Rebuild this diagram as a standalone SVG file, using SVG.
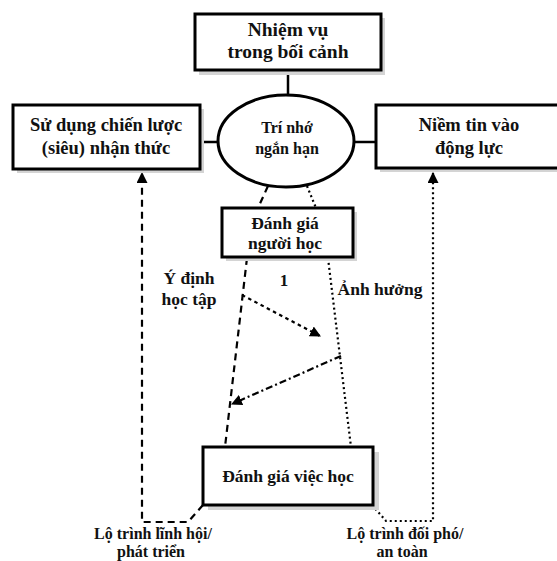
<svg xmlns="http://www.w3.org/2000/svg" width="557" height="561" viewBox="0 0 557 561">
<style>
.box{fill:#fff;stroke:#000;stroke-width:3}
.sh{fill:#d4d4d4}
.t{font-family:"Liberation Serif","Times New Roman",serif;font-weight:bold;fill:#111;text-anchor:middle}
.solid{stroke:#000;stroke-width:2.5;fill:none}
.dash{stroke:#000;stroke-width:2.2;fill:none;stroke-dasharray:7 5}
.dot{stroke:#000;stroke-width:2.2;fill:none;stroke-dasharray:2 3}
.sdot{stroke:#000;stroke-width:2.2;fill:none;stroke-dasharray:3.5 3.5}
.dashdot{stroke:#000;stroke-width:2.2;fill:none;stroke-dasharray:7 3 2 3}
</style>
<defs>
<marker id="ah" viewBox="0 0 10 10" refX="9" refY="5" markerWidth="5" markerHeight="5" orient="auto" markerUnits="strokeWidth">
<path d="M0,0 L10,5 L0,10 z" fill="#000"/>
</marker>
</defs>
<rect width="557" height="561" fill="#fff"/>
<g id="connectors">
<line class="solid" x1="288" y1="70" x2="288" y2="96"/>
<line class="solid" x1="200" y1="142" x2="218" y2="142"/>
<line class="solid" x1="354" y1="142" x2="376" y2="142"/>
<line class="dash" x1="268" y1="186" x2="258" y2="208"/>
<line class="dot" x1="307" y1="186" x2="316" y2="208"/>
<line class="dash" x1="247" y1="258" x2="225" y2="447"/>
<line class="dot" x1="328" y1="258" x2="351" y2="447"/>
<line class="sdot" x1="242" y1="295" x2="320" y2="336" marker-end="url(#ah)"/>
<line class="dashdot" x1="341" y1="356" x2="232" y2="404" marker-end="url(#ah)"/>
<polyline class="dash" points="203,505 188,522 142,522 142,173" marker-end="url(#ah)"/>
<polyline class="dot" points="372,505 386,521 433,521 433,173" marker-end="url(#ah)"/>
</g>
<g id="n-nhiemvu">
<rect class="sh" x="199" y="18" width="186" height="57"/>
<rect class="box" x="195" y="14" width="186" height="56"/>
<text class="t" x="288" y="36" font-size="19.5">Nhiệm vụ</text>
<text class="t" x="288" y="58" font-size="19.5">trong bối cảnh</text>
</g>
<g id="n-left">
<rect class="sh" x="17" y="109" width="187" height="64"/>
<rect class="box" x="13" y="105" width="187" height="64"/>
<text class="t" x="106" y="131" font-size="18.5">Sử dụng chiến lược</text>
<text class="t" x="106" y="154" font-size="18.5">(siêu) nhận thức</text>
</g>
<g id="n-right">
<rect class="sh" x="380" y="109" width="190" height="63"/>
<rect class="box" x="376" y="105" width="190" height="63"/>
<text class="t" x="469" y="131" font-size="18.5">Niềm tin vào</text>
<text class="t" x="469" y="154" font-size="18.5">động lực</text>
</g>
<g id="n-trinho">
<ellipse cx="286" cy="141" rx="68" ry="46" fill="#fff" stroke="#000" stroke-width="3"/>
<text class="t" x="287" y="133" font-size="16">Trí nhớ</text>
<text class="t" x="287" y="154" font-size="16">ngắn hạn</text>
</g>
<g id="n-nguoihoc">
<rect class="sh" x="226" y="212" width="131" height="49"/>
<rect class="box" x="222" y="208" width="131" height="49"/>
<text class="t" x="285" y="229" font-size="17.5">Đánh giá</text>
<text class="t" x="285" y="249" font-size="17.5">người học</text>
</g>
<g id="n-viechoc">
<rect class="sh" x="208" y="452" width="171" height="58"/>
<rect class="box" x="203" y="447" width="170" height="58"/>
<text class="t" x="288" y="482" font-size="17.5">Đánh giá việc học</text>
</g>
<g id="labels">
<text class="t" x="284" y="286" font-size="17">1</text>
<text class="t" x="189" y="284" font-size="17.5">Ý định</text>
<text class="t" x="189" y="305" font-size="17.5">học tập</text>
<text class="t" x="380" y="295" font-size="17.5">Ảnh hưởng</text>
<text class="t" x="153" y="539" font-size="16">Lộ trình lĩnh hội/</text>
<text class="t" x="151" y="557" font-size="16">phát triển</text>
<text class="t" x="405" y="539" font-size="16">Lộ trình đối phó/</text>
<text class="t" x="402" y="557" font-size="16">an toàn</text>
</g>
</svg>
